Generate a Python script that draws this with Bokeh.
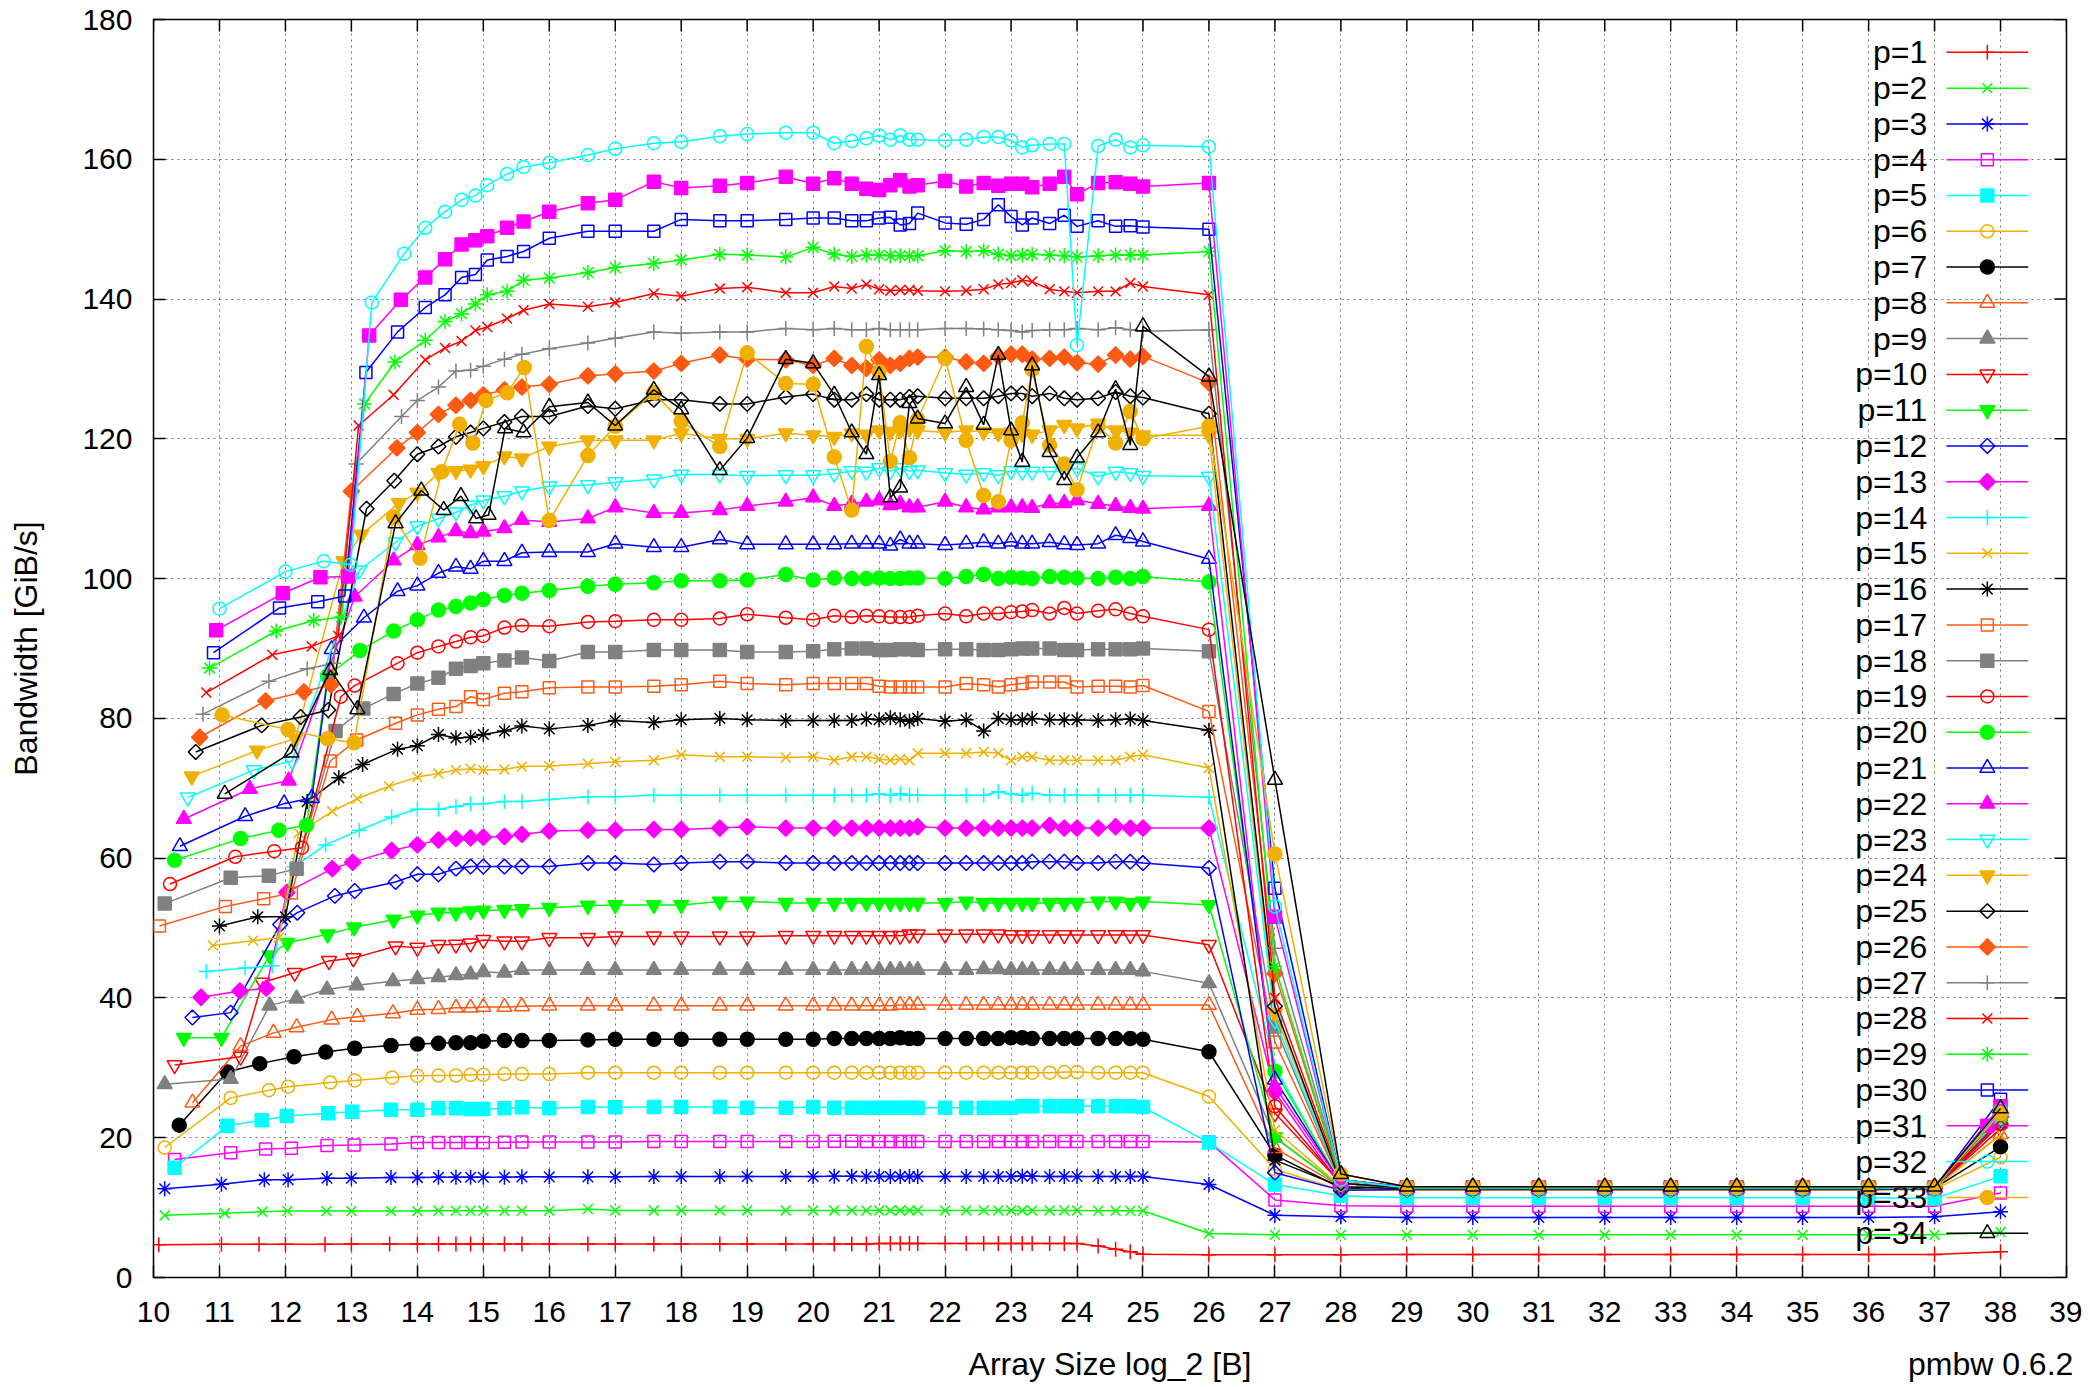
import numpy as np
from bokeh.plotting import figure
from bokeh.models import Range1d, FixedTicker, LinearAxis
from bokeh.embed import file_html
from bokeh.resources import INLINE
from bokeh.core.properties import value

# ---------------- data ----------------
X_TICKS = list(range(10, 40))
Y_TICKS = list(range(0, 181, 20))
X_TITLE = "Array Size log_2 [B]"
Y_TITLE = "Bandwidth [GiB/s]"
NOTE = "pmbw 0.6.2"

X_MID = [14.0, 14.32, 14.585, 14.807, 15.0, 15.32, 15.585]
X_MID_HI = [14.12, 14.42, 14.67, 14.88, 15.06, 15.36, 15.61]
X_MAIN = [16.0, 16.585, 17.0, 17.585, 18.0, 18.585, 19.0, 19.585,
          20.0, 20.32, 20.585, 20.807, 21.0, 21.17, 21.32, 21.46,
          21.585, 22.0, 22.32, 22.585, 22.807, 23.0, 23.17, 23.32,
          23.585, 23.807, 24.0, 24.32, 24.585, 24.807, 25.0, 26.0]
X_TAIL = [27, 28, 29, 30, 31, 32, 33, 34, 35, 36, 37, 38]

p01_rx = [10.08, 11.03, 11.6, 12.0, 12.6, 13.0, 13.58]
p01_ry = [4.7, 4.75, 4.75, 4.75, 4.75, 4.8, 4.8]
p01_mid = [4.8, 4.8, 4.8, 4.8, 4.8, 4.8, 4.8]
p01_main = [4.8, 4.8, 4.8, 4.8, 4.8, 4.8, 4.8, 4.8,
            4.8, 4.8, 4.8, 4.8, 4.85, 4.85, 4.85, 4.85,
            4.85, 4.85, 4.85, 4.85, 4.85, 4.85, 4.85, 4.85,
            4.85, 4.85, 4.85, 4.5, 4.05, 3.67, 3.34, 3.24]
p01_tail = [3.25, 3.25, 3.3, 3.3, 3.3, 3.3, 3.3, 3.3, 3.3, 3.3, 3.3, 3.7]

p02_rx = [10.17, 11.08, 11.65, 12.03, 12.62, 13.0, 13.6]
p02_ry = [8.9, 9.2, 9.4, 9.5, 9.5, 9.5, 9.5]
p02_mid = [9.5, 9.55, 9.55, 9.55, 9.55, 9.55, 9.55]
p02_main = [9.55, 9.8, 9.6, 9.6, 9.6, 9.6, 9.6, 9.6,
            9.6, 9.6, 9.6, 9.6, 9.6, 9.6, 9.6, 9.6,
            9.6, 9.6, 9.6, 9.6, 9.6, 9.6, 9.6, 9.6,
            9.6, 9.6, 9.6, 9.55, 9.55, 9.55, 9.55, 6.3]
p02_tail = [6.1, 6.1, 6.1, 6.1, 6.1, 6.1, 6.1, 6.1, 6.1, 6.1, 6.1, 6.5]

p03_rx = [10.17, 11.03, 11.68, 12.04, 12.63, 13.0, 13.6]
p03_ry = [12.7, 13.35, 14.0, 14.0, 14.2, 14.2, 14.3]
p03_mid = [14.3, 14.35, 14.35, 14.35, 14.35, 14.35, 14.4]
p03_main = [14.4, 14.4, 14.4, 14.45, 14.45, 14.45, 14.45, 14.45,
            14.45, 14.5, 14.5, 14.45, 14.45, 14.45, 14.45, 14.45,
            14.45, 14.45, 14.45, 14.45, 14.45, 14.45, 14.5, 14.5,
            14.45, 14.45, 14.45, 14.45, 14.45, 14.45, 14.45, 13.3]
p03_tail = [8.9, 8.7, 8.6, 8.6, 8.6, 8.6, 8.6, 8.6, 8.6, 8.6, 8.7, 9.4]

p04_rx = [10.32, 11.17, 11.7, 12.09, 12.63, 13.04, 13.6]
p04_ry = [16.9, 17.85, 18.4, 18.5, 18.9, 18.95, 19.1]
p04_mid = [19.3, 19.3, 19.3, 19.3, 19.3, 19.35, 19.4]
p04_main = [19.4, 19.4, 19.4, 19.45, 19.45, 19.45, 19.45, 19.45,
            19.45, 19.5, 19.5, 19.45, 19.45, 19.45, 19.45, 19.45,
            19.45, 19.45, 19.45, 19.45, 19.45, 19.45, 19.45, 19.45,
            19.45, 19.45, 19.45, 19.45, 19.45, 19.45, 19.45, 19.4]
p04_tail = [11.1, 10.25, 10.2, 10.2, 10.2, 10.2, 10.2, 10.2, 10.2, 10.2, 10.2, 12.1]

p05_rx = [10.32, 11.12, 11.64, 12.02, 12.65, 13.01, 13.6]
p05_ry = [15.7, 21.7, 22.5, 23.1, 23.5, 23.7, 24.0]
p05_mid = [24.0, 24.2, 24.2, 24.1, 24.1, 24.2, 24.35]
p05_main = [24.2, 24.4, 24.35, 24.4, 24.4, 24.4, 24.3, 24.3,
            24.4, 24.3, 24.3, 24.3, 24.3, 24.3, 24.3, 24.3,
            24.3, 24.3, 24.3, 24.3, 24.3, 24.3, 24.5, 24.5,
            24.5, 24.5, 24.5, 24.5, 24.5, 24.5, 24.4, 19.3]
p05_tail = [13.3, 11.7, 11.4, 11.4, 11.4, 11.4, 11.4, 11.4, 11.4, 11.4, 11.3, 14.5]

p06_rx = [10.17, 11.17, 11.75, 12.04, 12.68, 13.05, 13.62]
p06_ry = [18.6, 25.7, 26.8, 27.3, 27.9, 28.2, 28.6]
p06_mid = [28.85, 28.9, 28.9, 29.0, 29.0, 29.1, 29.1]
p06_main = [29.1, 29.3, 29.3, 29.3, 29.3, 29.3, 29.3, 29.3,
            29.3, 29.3, 29.3, 29.3, 29.3, 29.3, 29.3, 29.3,
            29.3, 29.3, 29.3, 29.3, 29.3, 29.3, 29.3, 29.3,
            29.3, 29.4, 29.4, 29.3, 29.3, 29.3, 29.3, 25.9]
p06_tail = [15.5, 12.5, 12.5, 12.5, 12.5, 12.5, 12.5, 12.5, 12.5, 12.5, 12.6, 17.2]

p07_rx = [10.39, 11.12, 11.61, 12.13, 12.61, 13.05, 13.6]
p07_ry = [21.8, 29.4, 30.6, 31.6, 32.25, 32.8, 33.2]
p07_mid = [33.4, 33.5, 33.6, 33.6, 33.8, 33.9, 33.9]
p07_main = [33.9, 34.0, 34.1, 34.1, 34.1, 34.1, 34.1, 34.1,
            34.1, 34.2, 34.2, 34.2, 34.2, 34.2, 34.3, 34.2,
            34.2, 34.2, 34.2, 34.2, 34.2, 34.3, 34.3, 34.2,
            34.2, 34.2, 34.2, 34.2, 34.2, 34.2, 34.1, 32.3]
p07_tail = [17.5, 12.8, 12.7, 12.7, 12.7, 12.7, 12.7, 12.7, 12.7, 12.7, 12.8, 18.7]

p08_rx = [10.59, 11.32, 11.82, 12.17, 12.7, 13.09, 13.63]
p08_ry = [25.0, 33.1, 35.0, 35.8, 36.9, 37.3, 37.8]
p08_mid = [38.3, 38.4, 38.6, 38.6, 38.7, 38.7, 38.8]
p08_main = [38.9, 38.9, 38.9, 38.9, 38.9, 38.9, 38.9, 38.9,
            38.9, 38.9, 38.9, 38.9, 38.9, 38.9, 39.0, 39.0,
            39.0, 39.0, 39.0, 39.0, 39.0, 39.0, 39.0, 39.0,
            39.0, 39.0, 39.0, 39.0, 39.0, 39.0, 39.0, 39.0]
p08_tail = [18.5, 13.0, 12.7, 12.7, 12.7, 12.7, 12.7, 12.7, 12.7, 12.7, 12.8, 20.5]

p09_rx = [10.17, 11.17, 11.76, 12.17, 12.63, 13.08, 13.63]
p09_ry = [27.65, 28.4, 38.9, 39.9, 41.2, 41.8, 42.4]
p09_mid = [42.7, 42.97, 43.25, 43.35, 43.7, 43.6, 44.0]
p09_main = [44.0, 44.0, 44.0, 44.0, 44.0, 44.0, 44.0, 44.0,
            44.0, 44.0, 44.0, 44.0, 44.0, 44.0, 44.0, 44.0,
            44.0, 44.0, 44.0, 44.1, 44.1, 44.0, 44.0, 44.0,
            44.0, 44.0, 44.0, 44.0, 44.0, 44.0, 43.8, 42.1]
p09_tail = [20.0, 13.0, 12.7, 12.7, 12.7, 12.7, 12.7, 12.7, 12.7, 12.7, 12.8, 22.0]

p10_rx = [10.32, 11.32, 11.65, 12.14, 12.66, 13.03, 13.67]
p10_ry = [30.4, 31.6, 42.2, 43.6, 45.3, 45.7, 47.4]
p10_mid = [47.2, 47.6, 47.65, 47.8, 48.3, 48.1, 48.1]
p10_main = [48.6, 48.6, 48.8, 48.8, 48.8, 48.8, 48.8, 48.9,
            48.9, 48.9, 48.9, 48.9, 48.9, 48.9, 48.9, 49.1,
            49.1, 49.1, 49.1, 49.1, 49.1, 49.0, 49.0, 49.0,
            49.0, 49.0, 49.0, 49.0, 49.0, 49.0, 49.0, 47.6]
p10_tail = [23.5, 13.5, 12.8, 12.8, 12.8, 12.8, 12.8, 12.8, 12.8, 12.8, 12.8, 21.3]

p11_rx = [10.46, 11.03, 11.76, 12.03, 12.64, 13.04, 13.64]
p11_ry = [34.3, 34.3, 46.1, 47.9, 49.1, 50.1, 51.2]
p11_mid = [51.8, 52.2, 52.2, 52.4, 52.5, 52.6, 52.7]
p11_main = [52.9, 53.2, 53.3, 53.3, 53.3, 53.8, 53.8, 53.6,
            53.6, 53.6, 53.6, 53.6, 53.6, 53.6, 53.6, 53.6,
            53.6, 53.6, 53.8, 53.6, 53.6, 53.6, 53.6, 53.6,
            53.6, 53.6, 53.6, 53.8, 53.8, 53.6, 53.8, 53.3]
p11_tail = [20.1, 13.0, 12.7, 12.7, 12.7, 12.7, 12.7, 12.7, 12.7, 12.7, 12.8, 22.5]

p12_rx = [10.59, 11.17, 11.92, 12.18, 12.75, 13.05, 13.67]
p12_ry = [37.2, 37.9, 50.5, 52.2, 54.6, 55.3, 56.6]
p12_mid = [57.7, 57.7, 58.5, 58.8, 58.8, 58.8, 58.8]
p12_main = [58.8, 59.3, 59.3, 59.1, 59.3, 59.5, 59.5, 59.3,
            59.3, 59.3, 59.3, 59.3, 59.3, 59.3, 59.3, 59.3,
            59.3, 59.3, 59.3, 59.3, 59.3, 59.3, 59.3, 59.5,
            59.5, 59.5, 59.3, 59.3, 59.5, 59.5, 59.3, 58.6]
p12_tail = [15.0, 12.5, 12.6, 12.6, 12.6, 12.6, 12.6, 12.6, 12.6, 12.6, 12.7, 22.0]

p13_rx = [10.72, 11.31, 11.71, 12.02, 12.71, 13.02, 13.61]
p13_ry = [40.1, 41.0, 41.4, 55.1, 58.5, 59.4, 61.1]
p13_mid = [61.9, 62.6, 62.8, 62.9, 63.0, 63.1, 63.4]
p13_main = [63.9, 64.0, 64.0, 64.1, 64.1, 64.3, 64.5, 64.3,
            64.3, 64.3, 64.3, 64.3, 64.3, 64.3, 64.3, 64.3,
            64.5, 64.3, 64.3, 64.3, 64.3, 64.3, 64.3, 64.3,
            64.7, 64.3, 64.3, 64.3, 64.5, 64.3, 64.3, 64.3]
p13_tail = [26.5, 13.0, 12.8, 12.8, 12.8, 12.8, 12.8, 12.8, 12.8, 12.8, 12.8, 23.0]

p14_rx = [10.8, 11.39, 11.8, 12.13, 12.61, 13.12, 13.61]
p14_ry = [43.8, 44.3, 44.6, 58.8, 61.9, 64.0, 65.9]
p14_mid = [67.0, 67.0, 67.4, 67.8, 67.8, 68.1, 68.1]
p14_main = [68.4, 68.8, 68.8, 69.0, 69.0, 69.0, 69.0, 69.0,
            69.0, 69.0, 69.0, 69.0, 69.2, 69.0, 69.2, 69.0,
            69.0, 69.0, 69.0, 69.0, 69.5, 69.2, 69.0, 69.3,
            69.0, 69.0, 69.0, 69.0, 69.0, 69.0, 69.0, 68.7]
p14_tail = [30.2, 13.0, 12.8, 12.8, 12.8, 12.8, 12.8, 12.8, 12.8, 12.8, 12.8, 23.5]

p15_rx = [10.9, 11.51, 11.9, 12.2, 12.71, 13.09, 13.57]
p15_ry = [47.5, 48.2, 48.6, 63.6, 66.7, 68.5, 70.3]
p15_mid = [71.6, 72.1, 72.6, 72.8, 72.6, 72.7, 73.1]
p15_main = [73.2, 73.5, 73.8, 74.0, 74.8, 74.5, 74.5, 74.4,
            74.5, 74.0, 74.5, 74.5, 74.2, 74.0, 74.2, 74.0,
            75.0, 75.0, 75.0, 75.2, 75.0, 74.0, 74.5, 74.5,
            74.0, 74.0, 74.0, 74.0, 74.0, 74.5, 74.8, 72.9]
p15_tail = [21.1, 13.0, 12.7, 12.7, 12.7, 12.7, 12.7, 12.7, 12.7, 12.7, 12.8, 20.4]

p16_rx = [11.0, 11.58, 12.0, 12.33, 12.81, 13.17, 13.7]
p16_ry = [50.3, 51.6, 51.6, 68.1, 71.5, 73.4, 75.6]
p16_mid = [76.1, 77.7, 77.2, 77.3, 77.7, 78.2, 78.9]
p16_main = [78.5, 79.0, 79.7, 79.4, 79.8, 80.0, 79.8, 79.7,
            79.7, 79.7, 79.7, 79.9, 79.8, 80.1, 79.8, 79.6,
            80.0, 79.6, 79.8, 78.2, 80.0, 79.8, 79.8, 80.0,
            79.8, 79.8, 79.8, 79.7, 79.8, 79.9, 79.7, 78.3]
p16_tail = [16.8, 13.0, 12.7, 12.7, 12.7, 12.7, 12.7, 12.7, 12.7, 12.7, 12.8, 22.5]

p17_rx = [10.09, 11.09, 11.67, 12.09, 12.68, 13.08, 13.67]
p17_ry = [50.3, 53.1, 54.2, 55.0, 73.9, 76.9, 79.3]
p17_mid = [80.5, 81.3, 81.7, 83.1, 82.7, 83.6, 83.8]
p17_main = [84.4, 84.5, 84.5, 84.6, 84.8, 85.3, 85.0, 84.8,
            85.0, 85.0, 85.0, 85.0, 84.6, 84.5, 84.5, 84.5,
            84.5, 84.5, 85.0, 84.8, 84.5, 84.8, 85.0, 85.2,
            85.2, 85.2, 84.5, 84.6, 84.6, 84.5, 84.7, 81.0]
p17_tail = [33.7, 13.5, 12.8, 12.8, 12.8, 12.8, 12.8, 12.8, 12.8, 12.8, 12.8, 23.0]

p18_rx = [10.17, 11.17, 11.75, 12.17, 12.76, 13.18, 13.64]
p18_ry = [53.5, 57.2, 57.5, 58.5, 78.2, 81.4, 83.5]
p18_mid = [85.0, 85.8, 87.1, 87.5, 87.9, 88.3, 88.7]
p18_main = [88.2, 89.5, 89.5, 89.8, 89.8, 89.8, 89.5, 89.5,
            89.6, 89.9, 90.0, 90.0, 89.8, 89.8, 89.9, 89.9,
            89.8, 89.9, 89.9, 89.8, 89.8, 89.9, 90.0, 90.0,
            90.0, 89.8, 89.8, 89.9, 89.9, 89.9, 90.0, 89.6]
p18_tail = [35.9, 13.5, 12.8, 12.8, 12.8, 12.8, 12.8, 12.8, 12.8, 12.8, 12.8, 23.5]

p19_rx = [10.25, 11.24, 11.83, 12.25, 12.84, 13.05, 13.7]
p19_ry = [56.3, 60.2, 61.0, 61.5, 83.1, 84.7, 87.9]
p19_mid = [89.4, 90.3, 91.0, 91.6, 91.8, 93.0, 93.3]
p19_main = [93.2, 93.8, 93.9, 94.1, 94.1, 94.3, 94.9, 94.4,
            94.1, 94.7, 94.5, 94.7, 94.6, 94.5, 94.5, 94.5,
            94.7, 95.0, 94.6, 95.0, 95.0, 95.2, 95.3, 95.5,
            95.0, 95.8, 95.0, 95.4, 95.6, 95.0, 94.6, 92.7]
p19_tail = [24.5, 13.5, 12.8, 12.8, 12.8, 12.8, 12.8, 12.8, 12.8, 12.8, 12.8, 22.0]

p20_rx = [10.32, 11.32, 11.9, 12.32, 12.64, 13.13, 13.64]
p20_ry = [59.7, 62.8, 64.0, 64.7, 86.1, 89.7, 92.5]
p20_mid = [94.1, 95.5, 96.0, 96.5, 97.0, 97.6, 97.9]
p20_main = [98.3, 98.9, 99.2, 99.4, 99.7, 99.7, 99.8, 100.6,
            99.8, 100.1, 100.0, 100.0, 100.1, 100.0, 100.0, 100.1,
            100.1, 100.0, 100.3, 100.6, 100.0, 100.2, 100.1, 100.0,
            100.3, 100.2, 100.1, 100.0, 100.2, 100.0, 100.3, 99.5]
p20_tail = [29.5, 13.5, 12.8, 12.8, 12.8, 12.8, 12.8, 12.8, 12.8, 12.8, 12.8, 23.0]

p21_rx = [10.4, 11.39, 11.98, 12.4, 12.7, 13.19, 13.7]
p21_ry = [61.7, 66.0, 67.8, 68.6, 89.9, 94.4, 98.2]
p21_mid = [99.0, 100.8, 101.7, 101.4, 102.5, 102.5, 103.7]
p21_main = [103.8, 103.8, 105.0, 104.5, 104.5, 105.6, 104.9, 104.9,
            104.9, 104.9, 105.0, 105.0, 105.0, 104.7, 105.6, 105.0,
            105.0, 104.8, 105.0, 105.2, 105.0, 105.3, 105.0, 105.0,
            105.2, 104.9, 104.8, 105.0, 106.2, 105.8, 105.3, 102.8]
p21_tail = [28.3, 13.5, 12.8, 12.8, 12.8, 12.8, 12.8, 12.8, 12.8, 12.8, 12.8, 24.0]

p22_rx = [10.46, 11.46, 12.05, 13.05, 13.64]
p22_ry = [65.6, 69.9, 71.1, 97.4, 102.6]
p22_mid = [104.8, 105.9, 106.8, 106.5, 106.7, 107.2, 108.4]
p22_main = [108.1, 108.6, 110.2, 109.4, 109.4, 109.8, 110.4, 111.0,
            111.6, 110.4, 110.7, 111.0, 111.2, 110.5, 110.7, 110.2,
            110.2, 111.0, 110.2, 109.9, 110.2, 110.2, 110.2, 110.1,
            110.8, 110.8, 111.2, 110.7, 110.4, 110.1, 110.0, 110.4]
p22_tail = [27.3, 13.5, 12.8, 12.8, 12.8, 12.8, 12.8, 12.8, 12.8, 12.8, 12.8, 23.5]

p23_rx = [10.52, 11.52, 12.1, 13.12, 13.67]
p23_ry = [68.7, 72.6, 73.9, 101.2, 105.2]
p23_mid = [107.5, 108.6, 109.5, 110.5, 111.2, 111.8, 112.5]
p23_main = [113.2, 113.4, 113.8, 114.2, 114.9, 114.9, 114.7, 114.8,
            114.8, 115.0, 115.4, 115.3, 115.8, 115.4, 115.8, 115.4,
            115.5, 115.1, 114.9, 115.1, 114.8, 115.4, 115.3, 115.3,
            115.3, 115.4, 115.8, 114.6, 115.3, 115.1, 114.7, 114.6]
p23_tail = [36.8, 13.5, 12.8, 12.8, 12.8, 12.8, 12.8, 12.8, 12.8, 12.8, 12.8, 23.0]

p24_rx = [10.58, 11.57, 12.15, 12.88, 13.15, 13.72]
p24_ry = [71.7, 75.4, 77.1, 102.5, 106.3, 110.8]
p24_mid = [112.3, 115.1, 115.4, 115.6, 116.1, 117.5, 117.2]
p24_main = [118.9, 119.8, 119.8, 119.8, 120.8, 120.0, 120.0, 120.8,
            120.5, 120.3, 120.8, 120.6, 121.2, 121.0, 121.2, 121.5,
            121.2, 120.9, 121.2, 121.0, 120.8, 120.9, 120.7, 120.6,
            121.2, 122.0, 121.5, 122.2, 121.2, 120.9, 120.5, 120.5]
p24_tail = [37.8, 13.8, 12.9, 12.9, 12.9, 12.9, 12.9, 12.9, 12.9, 12.9, 12.9, 24.0]

p25_rx = [10.64, 11.64, 12.23, 12.65, 13.23, 13.65]
p25_ry = [75.2, 79.0, 80.2, 81.2, 110.0, 114.0]
p25_mid = [117.8, 118.9, 120.3, 120.9, 121.5, 122.4, 123.2]
p25_main = [123.2, 124.7, 124.3, 125.6, 125.6, 125.0, 125.0, 126.0,
            126.4, 125.6, 125.6, 126.4, 125.6, 125.6, 125.6, 126.0,
            126.1, 125.8, 125.8, 125.8, 126.1, 126.5, 126.5, 126.1,
            126.5, 125.8, 125.6, 125.8, 126.7, 126.1, 125.9, 123.6]
p25_tail = [38.8, 13.5, 12.8, 12.8, 12.8, 12.8, 12.8, 12.8, 12.8, 12.8, 12.8, 23.5]

p26_rx = [10.7, 11.7, 12.28, 12.69, 13.0, 13.69]
p26_ry = [77.3, 82.5, 83.8, 84.8, 112.5, 118.7]
p26_mid = [120.9, 123.5, 124.8, 125.5, 126.3, 127.0, 127.4]
p26_main = [127.8, 129.0, 129.3, 129.7, 130.8, 132.0, 131.4, 131.3,
            130.5, 131.5, 130.5, 130.1, 131.3, 130.5, 130.8, 131.5,
            131.7, 131.7, 131.0, 130.8, 131.8, 132.1, 132.1, 131.4,
            131.5, 131.7, 130.9, 130.7, 132.0, 131.4, 131.8, 128.0]
p26_tail = [43.5, 14.0, 12.9, 12.9, 12.9, 12.9, 12.9, 12.9, 12.9, 12.9, 12.9, 23.5]

p27_rx = [10.75, 11.75, 12.33, 12.73, 13.07, 13.76]
p27_ry = [80.6, 85.3, 87.1, 87.9, 116.4, 123.2]
p27_mid = [125.5, 127.4, 129.7, 129.8, 130.4, 131.4, 132.1]
p27_main = [132.9, 133.7, 134.4, 135.3, 135.1, 135.3, 135.3, 135.8,
            135.6, 135.8, 135.6, 135.6, 135.8, 135.6, 135.6, 135.6,
            135.6, 135.8, 135.8, 135.7, 135.6, 135.5, 135.3, 135.5,
            135.6, 135.6, 135.8, 135.6, 135.9, 135.6, 135.4, 135.6]
p27_tail = [47.1, 14.0, 12.9, 12.9, 12.9, 12.9, 12.9, 12.9, 12.9, 12.9, 12.9, 24.0]

p28_rx = [10.8, 11.8, 12.4, 12.8, 13.11, 13.64]
p28_ry = [83.7, 89.1, 90.3, 91.8, 121.9, 126.3]
p28_mid = [131.3, 133.0, 134.0, 135.5, 136.0, 137.2, 138.4]
p28_main = [139.3, 138.9, 139.5, 140.8, 140.4, 141.5, 141.7, 140.9,
            140.9, 141.8, 141.5, 142.1, 141.4, 141.2, 141.3, 141.3,
            141.2, 141.1, 141.2, 141.4, 142.1, 142.3, 142.7, 142.5,
            141.4, 141.1, 140.9, 141.1, 141.1, 142.3, 141.8, 140.6]
p28_tail = [40.0, 14.0, 12.9, 12.9, 12.9, 12.9, 12.9, 12.9, 12.9, 12.9, 12.9, 22.5]

p29_rx = [10.85, 11.86, 12.43, 12.85, 13.2, 13.66]
p29_ry = [87.2, 92.5, 94.0, 94.5, 125.0, 131.0]
p29_mid = [134.1, 136.8, 137.9, 139.3, 140.6, 141.1, 142.7]
p29_main = [143.0, 143.8, 144.5, 145.1, 145.6, 146.4, 146.3, 146.0,
            147.4, 146.4, 146.1, 146.3, 146.3, 146.2, 146.2, 146.2,
            146.2, 146.9, 146.8, 146.9, 146.4, 146.2, 146.3, 146.4,
            146.3, 146.2, 146.0, 146.2, 146.3, 146.3, 146.3, 146.8]
p29_tail = [44.5, 14.0, 12.9, 12.9, 12.9, 12.9, 12.9, 12.9, 12.9, 12.9, 12.9, 24.0]

p30_rx = [10.91, 11.91, 12.49, 12.9, 13.22, 13.7]
p30_ry = [89.4, 95.8, 96.7, 97.5, 129.5, 135.3]
p30_mid = [138.8, 140.6, 143.1, 143.5, 145.6, 146.1, 146.8]
p30_main = [148.7, 149.7, 149.7, 149.7, 151.4, 151.2, 151.2, 151.4,
            151.6, 151.6, 151.2, 151.2, 151.6, 151.7, 150.6, 150.8,
            152.3, 150.9, 150.7, 151.4, 153.5, 151.8, 150.6, 151.6,
            150.8, 152.0, 150.4, 151.2, 150.4, 150.5, 150.3, 150.0]
p30_tail = [55.7, 14.0, 12.9, 12.9, 12.9, 12.9, 12.9, 12.9, 12.9, 12.9, 12.9, 25.5]

p31_rx = [10.95, 11.96, 12.53, 12.95, 13.27, 13.75]
p31_ry = [92.6, 97.9, 100.2, 100.3, 134.8, 139.9]
p31_mid = [143.1, 145.7, 147.8, 148.4, 149.0, 150.2, 151.1]
p31_main = [152.5, 153.7, 154.2, 156.8, 155.9, 156.2, 156.6, 157.5,
            156.5, 157.3, 156.5, 155.8, 155.6, 156.3, 157.0, 156.1,
            156.3, 156.9, 156.1, 156.6, 156.2, 156.5, 156.5, 156.0,
            156.5, 157.5, 155.0, 156.6, 156.7, 156.5, 156.1, 156.6]
p31_tail = [51.6, 14.0, 12.9, 12.9, 12.9, 12.9, 12.9, 12.9, 12.9, 12.9, 12.9, 24.5]

p32_rx = [11.0, 12.0, 12.58, 12.99, 13.31, 13.8]
p32_ry = [95.7, 101.0, 102.5, 102.0, 139.5, 146.5]
p32_mid = [150.2, 152.5, 154.2, 154.8, 156.3, 157.9, 158.9]
p32_main = [159.5, 160.6, 161.5, 162.3, 162.5, 163.3, 163.6, 163.8,
            163.8, 162.3, 162.6, 163.0, 163.4, 162.8, 163.4, 162.8,
            162.8, 162.7, 162.8, 163.2, 163.2, 162.7, 161.7, 162.0,
            162.2, 162.2, 133.4, 161.9, 162.8, 161.7, 162.0, 161.8]
p32_tail = [53.1, 14.0, 12.8, 12.8, 12.8, 12.8, 12.8, 12.8, 12.8, 12.8, 12.8, 24.0]

p33_rx = [11.04, 12.04, 12.64, 13.04, 13.64]
p33_ry = [80.5, 78.4, 77.1, 76.5, 108.8]
p33_mid_x = [14.04, 14.37, 14.64, 14.84, 15.04, 15.36, 15.62]
p33_mid = [102.9, 115.3, 122.1, 119.4, 125.5, 126.6, 130.2]
p33_main = [108.3, 117.6, 121.8, 126.6, 122.5, 118.9, 132.3, 127.9,
            127.8, 117.4, 109.8, 133.2, 129.6, 116.8, 122.3, 117.3,
            122.8, 131.5, 119.8, 111.9, 111.0, 119.8, 122.3, 129.9,
            119.1, 116.4, 112.7, 121.8, 119.4, 123.9, 120.0, 121.8]
p33_tail = [60.6, 14.8, 13.0, 13.0, 13.0, 13.0, 13.0, 13.0, 13.0, 13.0, 13.0, 23.5]

p34_rx = [11.08, 12.09, 12.68, 13.09, 13.67]
p34_ry = [69.2, 75.1, 86.9, 81.3, 107.9]
p34_mid_x = [14.06, 14.4, 14.66, 14.89, 15.08, 15.33, 15.61]
p34_mid = [112.6, 109.8, 111.8, 108.6, 109.1, 121.5, 120.9]
p34_main = [124.6, 125.2, 121.9, 127.0, 124.2, 115.5, 120.1, 131.4,
            130.8, 126.3, 120.9, 117.8, 129.1, 111.6, 113.0, 125.1,
            122.9, 122.2, 127.4, 122.0, 132.0, 121.2, 116.7, 130.5,
            118.1, 114.1, 117.3, 120.9, 127.1, 119.1, 136.1, 128.9]
p34_tail = [71.2, 14.8, 13.0, 13.0, 13.0, 13.0, 13.0, 13.0, 13.0, 13.0, 13.0, 24.2]

SERIES = [
    (p01_rx, p01_ry, X_MID, p01_mid, p01_main, p01_tail),
    (p02_rx, p02_ry, X_MID, p02_mid, p02_main, p02_tail),
    (p03_rx, p03_ry, X_MID, p03_mid, p03_main, p03_tail),
    (p04_rx, p04_ry, X_MID, p04_mid, p04_main, p04_tail),
    (p05_rx, p05_ry, X_MID, p05_mid, p05_main, p05_tail),
    (p06_rx, p06_ry, X_MID, p06_mid, p06_main, p06_tail),
    (p07_rx, p07_ry, X_MID, p07_mid, p07_main, p07_tail),
    (p08_rx, p08_ry, X_MID, p08_mid, p08_main, p08_tail),
    (p09_rx, p09_ry, X_MID, p09_mid, p09_main, p09_tail),
    (p10_rx, p10_ry, X_MID, p10_mid, p10_main, p10_tail),
    (p11_rx, p11_ry, X_MID, p11_mid, p11_main, p11_tail),
    (p12_rx, p12_ry, X_MID, p12_mid, p12_main, p12_tail),
    (p13_rx, p13_ry, X_MID, p13_mid, p13_main, p13_tail),
    (p14_rx, p14_ry, X_MID, p14_mid, p14_main, p14_tail),
    (p15_rx, p15_ry, X_MID, p15_mid, p15_main, p15_tail),
    (p16_rx, p16_ry, X_MID, p16_mid, p16_main, p16_tail),
    (p17_rx, p17_ry, X_MID, p17_mid, p17_main, p17_tail),
    (p18_rx, p18_ry, X_MID, p18_mid, p18_main, p18_tail),
    (p19_rx, p19_ry, X_MID, p19_mid, p19_main, p19_tail),
    (p20_rx, p20_ry, X_MID, p20_mid, p20_main, p20_tail),
    (p21_rx, p21_ry, X_MID, p21_mid, p21_main, p21_tail),
    (p22_rx, p22_ry, X_MID, p22_mid, p22_main, p22_tail),
    (p23_rx, p23_ry, X_MID, p23_mid, p23_main, p23_tail),
    (p24_rx, p24_ry, X_MID, p24_mid, p24_main, p24_tail),
    (p25_rx, p25_ry, X_MID, p25_mid, p25_main, p25_tail),
    (p26_rx, p26_ry, X_MID, p26_mid, p26_main, p26_tail),
    (p27_rx, p27_ry, X_MID, p27_mid, p27_main, p27_tail),
    (p28_rx, p28_ry, X_MID_HI, p28_mid, p28_main, p28_tail),
    (p29_rx, p29_ry, X_MID_HI, p29_mid, p29_main, p29_tail),
    (p30_rx, p30_ry, X_MID_HI, p30_mid, p30_main, p30_tail),
    (p31_rx, p31_ry, X_MID_HI, p31_mid, p31_main, p31_tail),
    (p32_rx, p32_ry, X_MID_HI, p32_mid, p32_main, p32_tail),
    (p33_rx, p33_ry, p33_mid_x, p33_mid, p33_main, p33_tail),
    (p34_rx, p34_ry, p34_mid_x, p34_mid, p34_main, p34_tail),
]

# ---------------- styles ----------------
COLORS = ["#ff0000", "#00ff00", "#0000ff", "#ff00ff", "#00ffff",
          "#f0b000", "#000000", "#ff5a14", "#808080"]
# (marker, filled, size, angle)
MARKERS = [("cross", False, 15, 0.0), ("x", False, 14, 0.0), ("asterisk", False, 15, 0.0),
           ("square", False, 12, 0.0), ("square", True, 13, 0.0),
           ("circle", False, 13, 0.0), ("circle", True, 14, 0.0),
           ("triangle", False, 15, 0.0), ("triangle", True, 15, 0.0),
           ("inverted_triangle", False, 15, 0.0), ("inverted_triangle", True, 15, 0.0),
           ("square", False, 10.5, np.pi / 4), ("square", True, 11.5, np.pi / 4)]

FONT = "Liberation Sans"
FS_TICK = "30px"
FS_TEXT = "32px"

W, H = 2082, 1384
BL, BR, BT, BB = 153, 16, 19, 107
FRAME_W = W - BL - BR
FRAME_H = H - BT - BB
TICK_PX = 12

# key layout (data units of the frame)
KEY_TX, KEY_X0, KEY_XM, KEY_X1 = 36.89, 37.18, 37.80, 38.42
KEY_Y0, KEY_DY = 175.3, 5.12
# positions (x data units) of the bottom caption row
CAP_TITLE_X, CAP_NOTE_X = 24.5, 37.85

p = figure(width=W, height=H, x_range=Range1d(10, 39), y_range=Range1d(0, 180),
           output_backend="svg", toolbar_location=None,
           min_border_left=BL, min_border_right=BR, min_border_top=BT, min_border_bottom=BB)
p.background_fill_color = "white"
p.border_fill_color = "white"
p.outline_line_color = "black"
p.outline_line_width = 1.5

for ax, ticks in ((p.xaxis[0], X_TICKS), (p.yaxis[0], Y_TICKS)):
    ax.ticker = FixedTicker(ticks=ticks)
    ax.major_tick_in = TICK_PX
    ax.major_tick_out = 0
    ax.minor_tick_in = 0
    ax.minor_tick_out = 0
    ax.major_tick_line_color = "black"
    ax.major_tick_line_width = 1.5
    ax.axis_line_color = None
    ax.major_label_text_font = FONT
    ax.major_label_text_font_size = FS_TICK
    ax.major_label_text_color = "black"
    ax.axis_label_text_font = FONT
    ax.axis_label_text_font_size = FS_TEXT
    ax.axis_label_text_font_style = "normal"
    ax.axis_label_text_color = "black"

p.yaxis.axis_label = Y_TITLE
p.xaxis.major_label_standoff = 24
p.yaxis.major_label_standoff = 21
p.yaxis.axis_label_standoff = 35

# caption row under the x tick labels: axis title (centred) and version note (right)
cap = LinearAxis(ticker=FixedTicker(ticks=[CAP_TITLE_X, CAP_NOTE_X]),
                 major_label_overrides={CAP_TITLE_X: X_TITLE, CAP_NOTE_X: NOTE},
                 major_tick_in=0, major_tick_out=0, minor_tick_in=0, minor_tick_out=0,
                 axis_line_color=None, major_tick_line_color=None,
                 major_label_standoff=21, major_label_text_font=FONT,
                 major_label_text_font_size=FS_TEXT, major_label_text_color="black")
p.add_layout(cap, "below")

for g, ticks in ((p.xgrid[0], X_TICKS), (p.ygrid[0], Y_TICKS)):
    g.ticker = FixedTicker(ticks=ticks)
    g.grid_line_color = "#707070"
    g.grid_line_dash = "2 4"
    g.grid_line_width = 1

# mirrored inner ticks on the top and right borders
ty = TICK_PX * 180.0 / FRAME_H
tx = TICK_PX * 29.0 / FRAME_W
p.segment(x0=X_TICKS, y0=[180] * len(X_TICKS), x1=X_TICKS, y1=[180 - ty] * len(X_TICKS),
          line_color="black", line_width=1.5)
p.segment(x0=[39] * len(Y_TICKS), y0=Y_TICKS, x1=[39 - tx] * len(Y_TICKS), y1=Y_TICKS,
          line_color="black", line_width=1.5)

for i, (rx, ry, mx, my, main, tail) in enumerate(SERIES):
    n = i + 1
    xs = list(rx) + list(mx) + X_MAIN + X_TAIL
    ys = list(ry) + list(my) + list(main) + list(tail)
    assert len(xs) == len(ys), (n, len(xs), len(ys))
    c = COLORS[i % len(COLORS)]
    mk, filled, sz, ang = MARKERS[i % len(MARKERS)]
    ky = KEY_Y0 - i * KEY_DY
    # key entry
    p.text(x=[KEY_TX], y=[ky], text=[f"p={n}"], text_align="right", text_baseline="middle",
           text_font=value(FONT), text_font_size=FS_TEXT, text_color="black")
    p.segment(x0=[KEY_X0], y0=[ky], x1=[KEY_X1], y1=[ky], line_color=c, line_width=1.5)
    p.scatter(x=[KEY_XM], y=[ky], marker=mk, size=sz, angle=ang, line_color=c,
              fill_color=c if filled else None, line_width=1.5)
    # data
    p.line(xs, ys, line_color=c, line_width=1.5)
    p.scatter(xs, ys, marker=mk, size=sz, angle=ang, line_color=c,
              fill_color=c if filled else None, line_width=1.5)

open("out.html", "w").write(file_html(p, INLINE))
